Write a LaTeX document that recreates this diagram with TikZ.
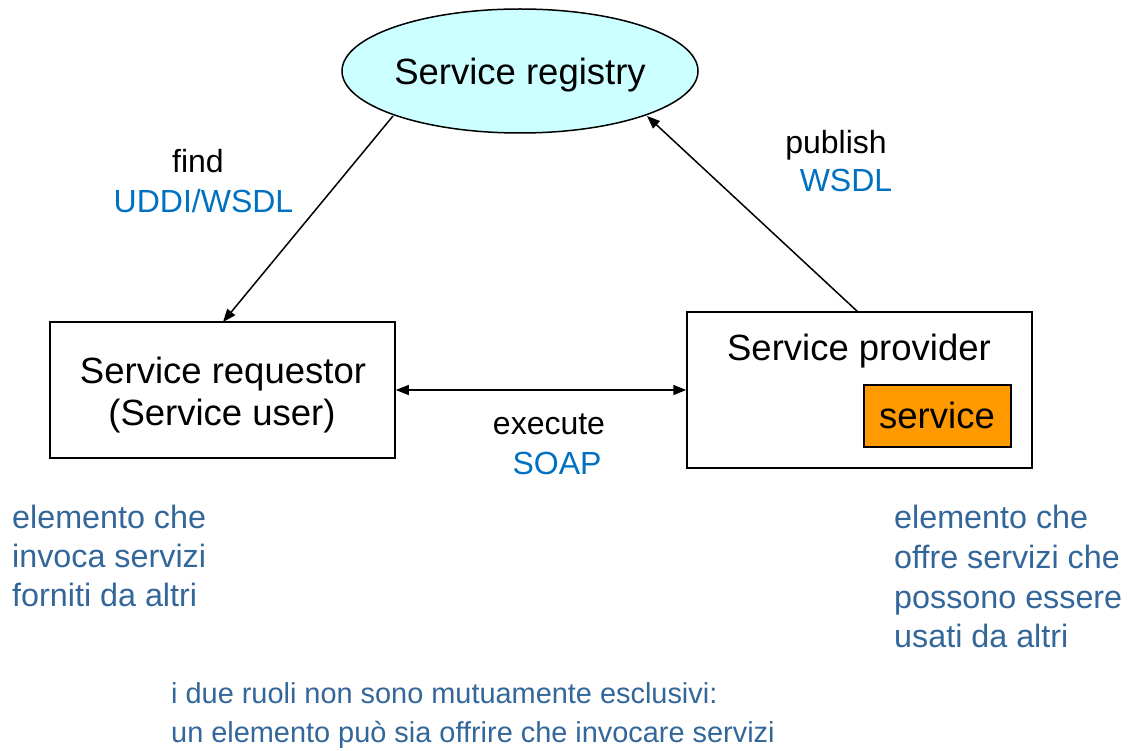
\documentclass[tikz,border=0pt]{standalone}
\usepackage{fontspec}
\setmainfont{Liberation Sans}
\usetikzlibrary{shapes.geometric,arrows.meta}

\definecolor{regfill}{HTML}{CCFFFF}
\definecolor{svcfill}{HTML}{FF9900}
\definecolor{protoblue}{HTML}{0070C0}
\definecolor{noteblue}{HTML}{336699}

\tikzset{
  bigtxt/.style={font=\fontsize{36.5}{44}\selectfont, inner sep=0pt},
  lbltxt/.style={font=\fontsize{32}{38}\selectfont, inner sep=0pt, anchor=base},
  proto/.style={lbltxt, text=protoblue},
  note/.style={font=\fontsize{32.3}{38}\selectfont, text=noteblue, inner sep=0pt, anchor=base west},
  foot/.style={font=\fontsize{28.9}{34}\selectfont, text=noteblue, inner sep=0pt, anchor=base west},
  role/.style={draw, line width=1.5pt, fill=white, inner sep=0pt},
  conn/.style={line width=1.5pt, -{Triangle[length=13pt,width=10pt]}},
}

\begin{document}
\begin{tikzpicture}[x=1pt, y=-1pt]
  \useasboundingbox (0,0) rectangle (1132,751);

  % registry
  \node[ellipse, draw, line width=1.5pt, fill=regfill, minimum width=356pt,
        minimum height=124pt, inner sep=0pt] (reg) at (520,71) {};
  \node[bigtxt, anchor=base] (regtxt) at (520,85) {Service registry};

  % requestor
  \node[role, minimum width=345pt, minimum height=136pt] (req) at (222.5,390) {};
  \node[bigtxt, anchor=base] (reqtxt1) at (223,383) {Service requestor};
  \node[bigtxt, anchor=base] (reqtxt2) at (222,425) {(Service user)};

  % provider
  \node[role, minimum width=345pt, minimum height=156pt] (prov) at (859.5,390) {};
  \node[bigtxt, anchor=base] (provtxt) at (859,360) {Service provider};
  \node[draw, line width=1.5pt, fill=svcfill, minimum width=147pt, minimum height=62pt,
        inner sep=0pt] (svc) at (937.5,416) {};
  \node[bigtxt, anchor=base] (svctxt) at (937,428) {service};

  % connectors
  \coordinate (findfrom) at (393,116);
  \coordinate (findto) at (223,322);
  \coordinate (pubfrom) at (858,312);
  \coordinate (pubto) at (647,116);
  \draw[conn] (findfrom) -- (findto);
  \draw[conn] (pubfrom) -- (pubto);
  \draw[line width=1.5pt, {Triangle[length=13pt,width=10pt]}-{Triangle[length=13pt,width=10pt]}]
    (req.east |- 0,390) -- (prov.west |- 0,390);

  % connector labels
  \node[lbltxt] (find) at (198,173) {find};
  \node[proto] (uddi) at (203.5,213) {UDDI/WSDL};
  \node[lbltxt] (publish) at (836,154) {publish};
  \node[proto] (wsdl) at (846,192) {WSDL};
  \node[lbltxt] (execute) at (549,434) {execute};
  \node[proto] (soap) at (557,474) {SOAP};

  % notes on the two roles
  \node[note] (l1) at (12,528) {elemento che};
  \node[note] (l2) at (12,567) {invoca servizi};
  \node[note] (l3) at (12,606) {forniti da altri};
  \node[note] (r1) at (894,528) {elemento che};
  \node[note] (r2) at (894,568) {offre servizi che};
  \node[note] (r3) at (894,608) {possono essere};
  \node[note] (r4) at (894,647) {usati da altri};

  \node[foot] (b1) at (171,703) {i due ruoli non sono mutuamente esclusivi:};
  \node[foot] (b2) at (171,742) {un elemento può sia offrire che invocare servizi};
\end{tikzpicture}
\end{document}
